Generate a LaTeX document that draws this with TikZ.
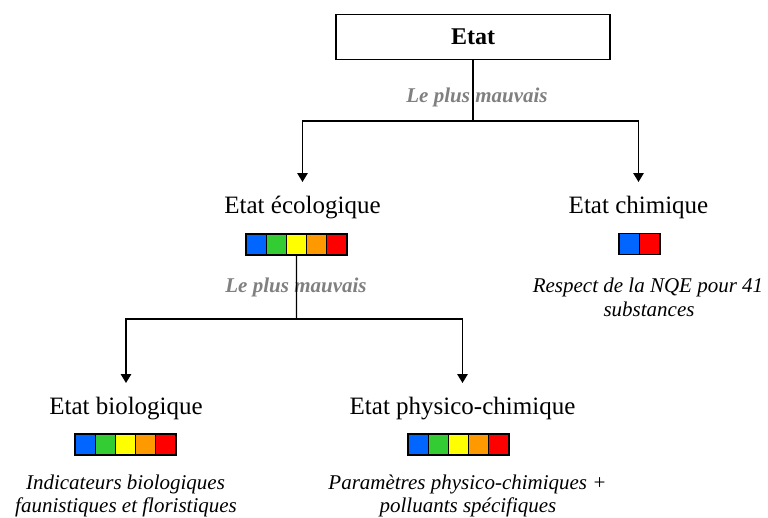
\documentclass[tikz,border=0pt]{standalone}
\usepackage{fontspec}
\setmainfont{Liberation Serif}
\usetikzlibrary{arrows.meta}
\definecolor{qblue}{RGB}{0,102,255}
\definecolor{qgreen}{RGB}{51,204,51}
\definecolor{qyellow}{RGB}{255,255,0}
\definecolor{qorange}{RGB}{255,153,0}
\definecolor{qred}{RGB}{255,0,0}
\definecolor{ruleGray}{RGB}{128,128,128}
\begin{document}
\begin{tikzpicture}[x=1pt,y=-1pt,
  conn/.style={line width=1.3pt},
  arr/.style={conn,-{Triangle[length=9pt,width=10.5pt]}},
  head/.style={font=\fontsize{25}{29}\selectfont, anchor=base, inner sep=0pt, text height=17pt, text depth=5pt, outer xsep=0pt, outer ysep=14pt},
  desc/.style={font=\fontsize{21}{24}\selectfont\itshape, anchor=base, inner sep=0pt},
  rulelbl/.style={font=\fontsize{21}{24}\selectfont\bfseries\itshape, text=ruleGray, anchor=base, inner sep=0pt},
  sq/.style={draw=black, line width=1.3pt, minimum width=20.2pt, minimum height=21pt, inner sep=0pt, outer sep=0pt}
]
\useasboundingbox (0,0) rectangle (768,517);

% top box
\node[draw, line width=1.5pt, minimum width=274pt, minimum height=45pt, inner sep=0pt,
      font=\fontsize{24}{28}\selectfont\bfseries] (etat) at (473,37) {Etat};
\node[rulelbl] (r1) at (477,102) {Le plus mauvais};

% level 2 headers
\node[head] (ecol) at (302.5,213) {Etat écologique};
\node[head] (chim) at (638.5,213) {Etat chimique};

% bars level 2
\foreach \c [count=\i] in {qblue,qgreen,qyellow,qorange,qred}
  \node[sq, fill=\c] (e\i) at ({246+20.2*(\i-0.5)},244.5) {};
\foreach \c [count=\i] in {qblue,qred}
  \node[sq, fill=\c, minimum width=20.5pt] (c\i) at ({619+20.5*(\i-0.5)},244) {};

\node[rulelbl] (r2) at (296,292) {Le plus mauvais};
\node[desc] (chimA) at (648,292) {Respect de la NQE pour 41};
\node[desc] (chimB) at (649,316) {substances};

% level 3 headers
\node[head] (bio) at (126,414) {Etat biologique};
\node[head] (phys) at (462.5,414) {Etat physico-chimique};

\foreach \c [count=\i] in {qblue,qgreen,qyellow,qorange,qred}
  \node[sq, fill=\c] (b\i) at ({75+20.2*(\i-0.5)},444.5) {};
\foreach \c [count=\i] in {qblue,qgreen,qyellow,qorange,qred}
  \node[sq, fill=\c] (p\i) at ({408+20.2*(\i-0.5)},444.5) {};

\node[desc] (bioA) at (125.5,489.5) {Indicateurs biologiques};
\node[desc] (bioB) at (126,512) {faunistiques et floristiques};
\node[desc] (physA) at (467.5,489) {Paramètres physico-chimiques +};
\node[desc] (physB) at (468,512) {polluants spécifiques};

% connectors
\coordinate (j1) at (473,121);
\draw[conn] (etat.south) -- (j1);
\draw[arr] (j1) -| (ecol.north);
\draw[arr] (j1) -| (chim.north);

\coordinate (j2) at (296.5,319);
\draw[conn] (e3.south) -- (j2);
\draw[arr] (j2) -| (bio.north);
\draw[arr] (j2) -| (phys.north);
\end{tikzpicture}
\end{document}
